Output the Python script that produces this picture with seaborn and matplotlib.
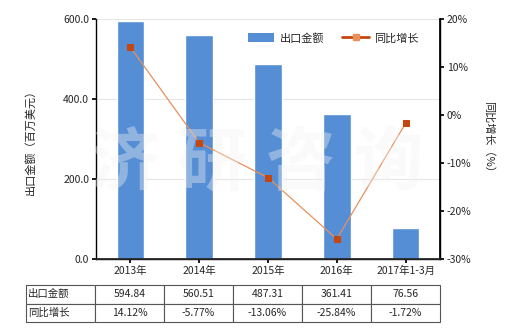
import numpy as np
import pandas as pd
import matplotlib
matplotlib.use("Agg")
import matplotlib.pyplot as plt
import seaborn as sns
from matplotlib.patches import Patch
from matplotlib.lines import Line2D
from matplotlib.ticker import FuncFormatter

categories = ["2013年", "2014年", "2015年", "2016年", "2017年1-3月"]
export_values = [594.84, 560.51, 487.31, 361.41, 76.56]
growth_values = [14.12, -5.77, -13.06, -25.84, -1.72]
row_labels = ["出口金额", "同比增长"]
watermark_chars = ["济", "研", "咨", "询"]

sns.set_theme(style="white")
plt.rcParams['font.family'] = ['Noto Sans CJK SC', 'DejaVu Sans']
plt.rcParams['axes.unicode_minus'] = False

fig = plt.figure(figsize=(5.2, 3.3), dpi=100)
ax = fig.add_axes([96/520, 1-259/330, 344/520, 240/330])

df = pd.DataFrame({"cat": categories, "val": export_values})
sns.barplot(data=df, x="cat", y="val", ax=ax, color="#558ED5", saturation=1, width=0.4)
ax.set_xlim(-0.5, len(categories) - 0.5)
ax.set_ylim(0, 600)
ax.set_yticks([0, 200, 400, 600])
ax.yaxis.set_major_formatter(FuncFormatter(lambda v, p: f"{v:.1f}"))
ax.set_xlabel("")
ax.set_ylabel("出口金额（百万美元）", fontsize=8, labelpad=20)
ax.grid(axis="y", color="#e6e6e6", linewidth=0.8)
ax.set_axisbelow(True)
ax.spines["top"].set_visible(False)
for s in ["left", "bottom", "right"]:
    ax.spines[s].set_color("black")
    ax.spines[s].set_linewidth(1.0)
ax.tick_params(axis="both", labelsize=7.5, length=3, color="black", direction="out",
               left=True, bottom=True, pad=2)

ax2 = ax.twinx()
ldf = pd.DataFrame({"x": np.arange(len(categories)), "g": growth_values})
sns.lineplot(data=ldf, x="x", y="g", ax=ax2, color="#E8905A", linewidth=0.9,
             marker="s", markersize=5, markerfacecolor="#C4470F", markeredgecolor="#C4470F")
ax2.set_ylim(-30, 20)
ax2.set_yticks([-30, -20, -10, 0, 10, 20])
ax2.yaxis.set_major_formatter(FuncFormatter(lambda v, p: f"{v:.0f}%"))
ax2.set_xlabel("")
ax2.set_ylabel("同比增长（%）", fontsize=8, rotation=-90, labelpad=16)
ax2.tick_params(axis="y", labelsize=7.5, length=3, color="black", right=True, pad=2)
ax2.spines["top"].set_visible(False)
ax2.spines["right"].set_color("black")
ax2.spines["left"].set_visible(False)
ax2.grid(False)
ax.set_xlim(-0.5, len(categories) - 0.5)

handles = [Patch(facecolor="#558ED5", edgecolor="none"),
           Line2D([0], [0], color="#C4470F", linewidth=2, marker="s", markersize=4,
                  markerfacecolor="#E8905A", markeredgecolor="#E8905A")]
ax2.legend(handles, ["出口金额", "同比增长"], loc="center", bbox_to_anchor=(0.69, 0.92),
           ncol=2, frameon=False, fontsize=8, handlelength=2.4, handleheight=0.9,
           columnspacing=1.6, handletextpad=0.5)

# watermark
for i, ch in enumerate(watermark_chars):
    fig.text((124 + 88 * i) / 520, 1 - 165 / 330, ch, fontsize=50, color="#f2f2f2",
             alpha=0.38, ha="center", va="center", fontweight="bold", zorder=10)

cell_text = [[f"{v:.2f}" for v in export_values],
             [f"{v:.2f}%" for v in growth_values]]
full = [[row_labels[i]] + cell_text[i] for i in range(2)]
tbl = ax.table(cellText=full, cellLoc="center",
               bbox=[-70/344, -(322-259)/240, 414/344, 37/240])
tbl.auto_set_font_size(False)
tbl.set_fontsize(7.5)
for (r, c), cell in tbl.get_celld().items():
    cell.set_edgecolor("#555555")
    cell.set_linewidth(0.8)
    if c == 0:
        cell.get_text().set_ha("left")
        cell.PAD = 0.03

fig.savefig("out.png", dpi=100)
